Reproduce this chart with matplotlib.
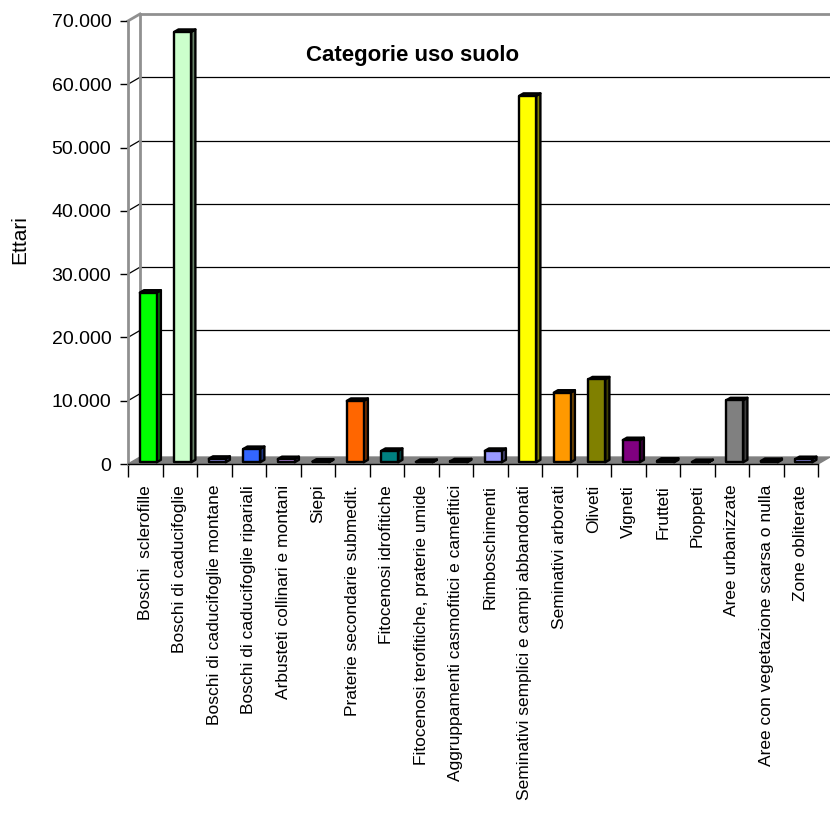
import numpy as np
import matplotlib.pyplot as plt
from matplotlib.patches import Polygon
from matplotlib.colors import to_rgb

plt.rcParams['font.family'] = ['Liberation Sans', 'DejaVu Sans']

categorie = [
    'Boschi  sclerofille', 'Boschi di caducifoglie', 'Boschi di caducifoglie montane',
    'Boschi di caducifoglie ripariali', 'Arbusteti collinari e montani', 'Siepi',
    'Praterie secondarie submedit.', 'Fitocenosi idrofitiche',
    'Fitocenosi terofitiche, praterie umide', 'Aggruppamenti casmofitici e camefitici',
    'Rimboschimenti', 'Seminativi semplici e campi abbandonati', 'Seminativi arborati',
    'Oliveti', 'Vigneti', 'Frutteti', 'Pioppeti', 'Aree urbanizzate',
    'Aree con vegetazione scarsa o nulla', 'Zone obliterate',
]
ettari = [26800, 68000, 550, 2100, 500, 100, 9700, 1800, 50, 150,
          1800, 57900, 11000, 13100, 3500, 250, 30, 9800, 200, 500]
colori = ['#00FF00', '#CCFFCC', '#9999FF', '#3366FF', '#CC99FF', '#000080',
          '#FF6600', '#008080', '#000080', '#000080', '#9999FF', '#FFFF00',
          '#FF9900', '#808000', '#800080', '#9999FF', '#000080', '#808080',
          '#000080', '#9999FF']
yticks = [0, 10000, 20000, 30000, 40000, 50000, 60000, 70000]

n = len(categorie)
ddx, ddy = 0.347, 1100     # profondita' delle pareti (3D finto)
f0, f1 = 0.25, 0.6          # posizione delle barre nella profondita'
w = 0.49

fig = plt.figure(figsize=(8.3, 8.14), dpi=100)
ax = fig.add_axes([128/830, 1-464/814, 702/830, 450/814])
ax.set_xlim(-0.5, n - 0.5 + ddx)
ax.set_ylim(0, 70000 + ddy)
for s in ax.spines.values():
    s.set_visible(False)

# parete posteriore e laterale
x0 = -0.5
for v in yticks[1:]:
    c = '#909090' if v == 70000 else 'black'
    lw = 2 if v == 70000 else 0.9
    ax.plot([x0 + ddx, n - 0.5 + ddx], [v + ddy, v + ddy], color=c, lw=lw, zorder=1, clip_on=False)
    ax.plot([x0, x0 + ddx], [v, v + ddy], color=c, lw=lw, zorder=1, clip_on=False)
ax.plot([x0, x0], [0, 70000], color='#909090', lw=2, zorder=2, clip_on=False)
ax.plot([x0 + ddx, x0 + ddx], [ddy, 70000 + ddy], color='#909090', lw=2, zorder=2, clip_on=False)

# pavimento
ax.add_patch(Polygon([(x0, 0), (n - 0.5, 0), (n - 0.5 + ddx, ddy), (x0 + ddx, ddy)],
                     closed=True, facecolor='#808080', edgecolor='#808080', zorder=2))
ax.plot([x0, n - 0.5], [0, 0], color='black', lw=1, zorder=3, clip_on=False)

# barre 3D
for i, (v, col) in enumerate(zip(ettari, colori)):
    xl = i - w/2 + f0*ddx
    xr = xl + w
    yb = f0*ddy
    ox, oy = (f1 - f0)*ddx, (f1 - f0)*ddy
    scuro = tuple(c*0.5 for c in to_rgb(col))
    front = [(xl, yb), (xr, yb), (xr, yb + v), (xl, yb + v)]
    top = [(xl, yb + v), (xr, yb + v), (xr + ox, yb + v + oy), (xl + ox, yb + v + oy)]
    side = [(xr, yb), (xr + ox, yb + oy), (xr + ox, yb + v + oy), (xr, yb + v)]
    for pts, fc in ((side, scuro), (top, scuro), (front, col)):
        ax.add_patch(Polygon(pts, closed=True, facecolor=fc, edgecolor='black',
                             lw=1.7, joinstyle='round', zorder=4 + i*0.01))

ax.set_yticks(yticks)
ax.set_yticklabels([f'{v:,}'.replace(',', '.') for v in yticks], fontsize=14)
ax.tick_params(axis='y', left=True, length=6, width=1, pad=6)

ax.set_xticks(np.arange(n))
ax.set_xticklabels(categorie, rotation=90, fontsize=12.5, va='top')
ax.set_xticks(np.arange(n + 1) - 0.5, minor=True)
ax.tick_params(axis='x', which='major', length=0, pad=15)
ax.tick_params(axis='x', which='minor', length=9, width=1, bottom=True)

fig.text(20/830, 1 - 240/814, 'Ettari', rotation=90, fontsize=15, ha='center', va='center')
fig.text(413/830, 1 - 56/814, 'Categorie uso suolo', fontsize=16, fontweight='bold',
         ha='center', va='center')

fig.savefig('out.png', dpi=100)
